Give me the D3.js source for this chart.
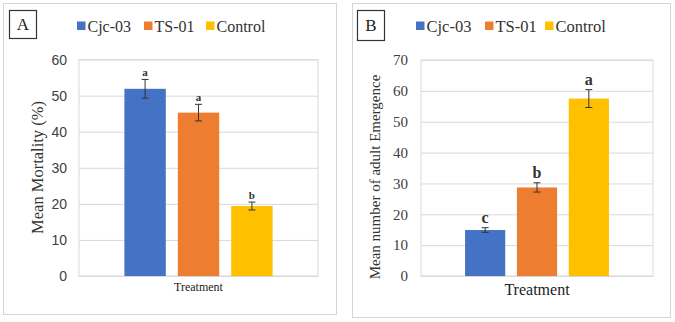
<!DOCTYPE html>
<meta charset="utf-8">
<script src="https://d3js.org/d3.v7.min.js"></script>
<style>
  body { margin: 0; background: #fff; }
</style>
<div id="chart"></div>
<script>

// data
var treatments = ["Cjc-03", "TS-01", "Control"];
var colors = ["#4472C4", "#ED7D31", "#FFC000"];

var mortality = [51.9, 45.3, 19.4];
var mortalityErr = [2.6, 2.3, 1.1];
var mortalityLetters = ["a", "a", "b"];
var mortalityTicks = [0, 10, 20, 30, 40, 50, 60];

var emergence = [14.9, 28.7, 57.5];
var emergenceErr = [0.75, 1.5, 2.9];
var emergenceLetters = ["c", "b", "a"];
var emergenceTicks = [0, 10, 20, 30, 40, 50, 60, 70];

var serif = "'Liberation Serif', 'Times New Roman', serif";
var sans = "'Liberation Sans', Arial, sans-serif";

var svg = d3.select("#chart")
  .append("svg")
    .attr("width", 675)
    .attr("height", 322);

function drawPanel(p) {
  var g = svg.append("g");

  // outer frame
  g.append("rect")
    .attr("x", p.frame[0] + 0.5).attr("y", p.frame[1] + 0.5)
    .attr("width", p.frame[2] - p.frame[0]).attr("height", p.frame[3] - p.frame[1])
    .attr("fill", "none").attr("stroke", "#d4d4d4");

  // panel letter box
  g.append("rect")
    .attr("x", p.box[0] + 0.5).attr("y", p.box[1] + 0.5)
    .attr("width", p.box[2]).attr("height", p.box[3])
    .attr("fill", "none").attr("stroke", "#333").attr("stroke-width", 1.2);
  g.append("text")
    .attr("x", p.box[0] + p.box[2] / 2 + 0.5)
    .attr("y", p.box[1] + p.box[3] / 2 + 6)
    .attr("text-anchor", "middle")
    .style("font-family", serif).style("font-size", "17px").style("fill", "#222")
    .text(p.name);

  var x = d3.scaleBand()
    .domain(treatments)
    .range([p.left, p.right])
    .paddingInner(0.225)
    .paddingOuter(0.85);

  var y = d3.scaleLinear()
    .domain([0, d3.max(p.ticks)])
    .range([p.bottom, p.top]);

  // gridlines
  g.append("g")
    .attr("transform", "translate(" + p.left + ",0)")
    .call(d3.axisLeft(y).tickValues(p.ticks).tickSize(-(p.right - p.left)).tickFormat(""))
    .call(function(a) {
      a.select(".domain").remove();
      a.selectAll("line").attr("stroke", "#d9d9d9");
    });

  // plot frame
  g.append("rect")
    .attr("x", p.left).attr("y", p.top)
    .attr("width", p.right - p.left).attr("height", p.bottom - p.top)
    .attr("fill", "none").attr("stroke", "#d9d9d9");

  // tick labels
  g.append("g")
    .attr("transform", "translate(" + p.left + ",0)")
    .call(d3.axisLeft(y).tickValues(p.ticks).tickSize(0).tickPadding(p.tickPad))
    .call(function(a) {
      a.select(".domain").remove();
      a.selectAll("text")
        .style("font-family", p.tickFont)
        .style("font-size", p.tickSize + "px")
        .attr("fill", "#404040");
    });

  // bars
  g.selectAll(".bar")
    .data(p.values)
    .enter()
    .append("rect")
      .attr("x", function(d, i) { return x(treatments[i]); })
      .attr("y", function(d) { return y(d); })
      .attr("width", x.bandwidth())
      .attr("height", function(d) { return y(0) - y(d); })
      .attr("fill", function(d, i) { return colors[i]; });

  // error bars
  var err = g.selectAll(".err")
    .data(p.values)
    .enter()
    .append("g")
      .attr("stroke", "#333")
      .attr("stroke-width", 1);
  var cx = function(i) { return x(treatments[i]) + x.bandwidth() / 2; };
  err.append("line")
    .attr("x1", function(d, i) { return cx(i); })
    .attr("x2", function(d, i) { return cx(i); })
    .attr("y1", function(d, i) { return y(d + p.err[i]); })
    .attr("y2", function(d, i) { return y(d - p.err[i]); });
  [1, -1].forEach(function(s) {
    err.append("line")
      .attr("x1", function(d, i) { return cx(i) - 3.5; })
      .attr("x2", function(d, i) { return cx(i) + 3.5; })
      .attr("y1", function(d, i) { return y(d + s * p.err[i]); })
      .attr("y2", function(d, i) { return y(d + s * p.err[i]); });
  });

  // significance letters
  g.selectAll(".letter")
    .data(p.values)
    .enter()
    .append("text")
      .attr("x", function(d, i) { return cx(i); })
      .attr("y", function(d, i) { return y(d + p.err[i]) - p.letterGap; })
      .attr("text-anchor", "middle")
      .style("font-family", serif)
      .style("font-size", p.letterSize + "px")
      .style("font-weight", "bold")
      .style("fill", "#333")
      .text(function(d, i) { return p.letters[i]; });

  // axis titles
  g.append("text")
    .attr("transform", "translate(" + p.yTitle[0] + "," + p.yTitle[1] + ")rotate(-90)")
    .attr("text-anchor", "middle")
    .attr("dy", "0.35em")
    .style("font-family", serif).style("font-size", p.yTitleSize + "px").style("fill", "#333")
    .text(p.yLabel);

  g.append("text")
    .attr("x", (p.left + p.right) / 2)
    .attr("y", p.xTitleY)
    .attr("text-anchor", "middle")
    .attr("dy", "0.35em")
    .style("font-family", serif).style("font-size", p.xTitleSize + "px").style("fill", "#222")
    .text("Treatment");

  // legend
  var leg = g.selectAll(".leg")
    .data(treatments)
    .enter()
    .append("g")
      .attr("transform", function(d, i) { return "translate(" + p.legendX[i] + "," + p.legendY + ")"; });
  leg.append("rect")
    .attr("x", 0).attr("y", -4.5)
    .attr("width", 8.5).attr("height", 8.5)
    .attr("fill", function(d, i) { return colors[i]; });
  leg.append("text")
    .attr("x", 10.5)
    .attr("y", 0)
    .attr("dy", "0.35em")
    .style("font-family", serif).style("font-size", p.legendSize + "px").style("fill", "#333")
    .text(function(d) { return d; });
}

drawPanel({
  name: "A",
  frame: [3, 3, 336, 314],
  box: [9, 10, 27, 28],
  left: 79, right: 318, top: 59.6, bottom: 276,
  ticks: mortalityTicks,
  values: mortality, err: mortalityErr, letters: mortalityLetters,
  tickFont: sans, tickSize: 14, tickPad: 12,
  letterSize: 11, letterGap: 3,
  yLabel: "Mean Mortality (%)", yTitle: [37, 167.5], yTitleSize: 16.5,
  xTitleY: 287, xTitleSize: 12,
  legendX: [77, 144, 206], legendY: 26, legendSize: 16
});

drawPanel({
  name: "B",
  frame: [352, 3, 670, 317],
  box: [357, 10, 27, 30],
  left: 421, right: 653, top: 60, bottom: 276,
  ticks: emergenceTicks,
  values: emergence, err: emergenceErr, letters: emergenceLetters,
  tickFont: serif, tickSize: 15, tickPad: 13,
  letterSize: 16, letterGap: 5,
  yLabel: "Mean number of adult Emergence", yTitle: [375, 177], yTitleSize: 15,
  xTitleY: 289, xTitleSize: 16,
  legendX: [416, 485, 545], legendY: 26, legendSize: 16.5
});

</script>
